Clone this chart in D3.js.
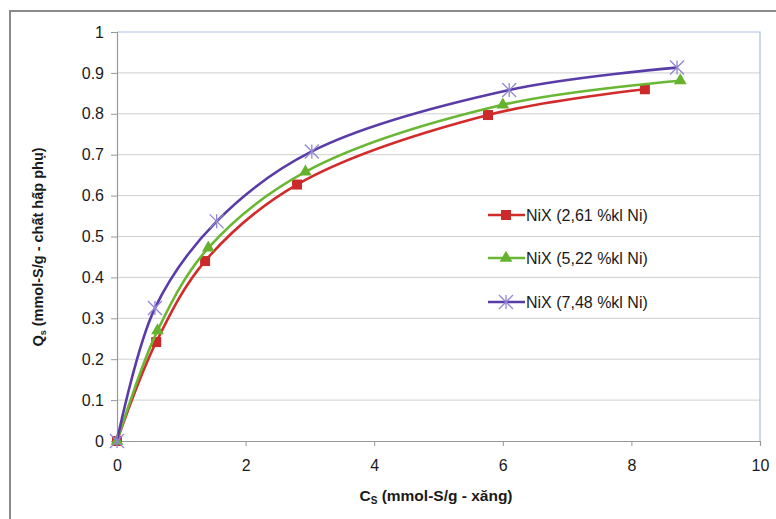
<!DOCTYPE html>
<html>
<head>
<meta charset="utf-8">
<script src="https://cdn.jsdelivr.net/npm/d3@7"></script>
<style>
  html, body { margin: 0; padding: 0; background: #fff; }
  svg { display: block; }
  text { font-family: "Liberation Sans", Arial, sans-serif; }
</style>
</head>
<body>
<svg id="chart" width="776" height="519"></svg>
<script>
// ---- data ----
const cs_261 = [0, 0.61, 1.37, 2.80, 5.77, 8.21];
const qs_261 = [0, 0.242, 0.440, 0.627, 0.797, 0.860];
const cs_522 = [0, 0.63, 1.42, 2.93, 6.00, 8.76];
const qs_522 = [0, 0.270, 0.472, 0.658, 0.822, 0.881];
const cs_748 = [0, 0.59, 1.55, 3.03, 6.10, 8.71];
const qs_748 = [0, 0.325, 0.537, 0.708, 0.858, 0.913];
const seriesNames = ["NiX (2,61 %kl Ni)", "NiX (5,22 %kl Ni)", "NiX (7,48 %kl Ni)"];
const xTicks = [0, 2, 4, 6, 8, 10];
const yTicks = [0, 0.1, 0.2, 0.3, 0.4, 0.5, 0.6, 0.7, 0.8, 0.9, 1];

const svg = d3.select("#chart");
const W = 776, H = 519;

// outer frame
svg.append("path")
  .attr("d", `M10,${H} L10,11 L${W},11`)
  .attr("fill", "none").attr("stroke", "#8a8a8a").attr("stroke-width", 2);

const x = d3.scaleLinear().domain([0, 10]).range([117, 760]);
const y = d3.scaleLinear().domain([0, 1]).range([441, 32]);

// gridlines
svg.append("g").selectAll("line").data(yTicks.filter(d => d > 0 && d < 1)).join("line")
  .attr("x1", x(0)).attr("x2", x(10))
  .attr("y1", d => y(d)).attr("y2", d => y(d))
  .attr("stroke", "#cfcfcf").attr("stroke-width", 1);

// plot border top/right
svg.append("path")
  .attr("d", `M${x(0)},${y(1)} L${x(10)},${y(1)} L${x(10)},${y(0)}`)
  .attr("fill", "none").attr("stroke", "#a9bfe0").attr("stroke-width", 1.2);

// axes
const yAxis = d3.axisLeft(y).tickValues(yTicks).tickSize(6).tickPadding(7)
  .tickFormat(d => d3.format("")(+d.toFixed(1)));
const gy = svg.append("g").attr("transform", `translate(${x(0)},0)`).call(yAxis);
const xAxis = d3.axisBottom(x).tickValues(xTicks).tickSize(5).tickPadding(11);
const gx = svg.append("g").attr("transform", `translate(0,${y(0)})`).call(xAxis);
[gx, gy].forEach(g => {
  g.select(".domain").attr("stroke", "#999").attr("stroke-width", 1.2);
  g.selectAll(".tick line").attr("stroke", "#999");
  g.selectAll(".tick text").attr("font-size", 16).attr("fill", "#1a1a1a")
    .attr("font-family", "Liberation Sans, Arial, sans-serif");
});
gx.selectAll(".tick text").attr("dy", "0.85em");

// axis titles
const yt = svg.append("text")
  .attr("transform", `translate(43,247) rotate(-90)`)
  .attr("text-anchor", "middle").attr("font-size", 14.5).attr("font-weight", "bold").attr("fill", "#1a1a1a");
yt.append("tspan").text("Q");
yt.append("tspan").attr("font-size", 9).attr("dy", 3).text("s");
yt.append("tspan").attr("dy", -3).text(" (mmol-S/g - chất hấp phụ)");

const xt = svg.append("text")
  .attr("x", 436).attr("y", 501)
  .attr("text-anchor", "middle").attr("font-size", 15.5).attr("font-weight", "bold").attr("fill", "#1a1a1a");
xt.append("tspan").text("C");
xt.append("tspan").attr("font-size", 10).attr("dy", 3).text("S");
xt.append("tspan").attr("dy", -3).text(" (mmol-S/g - xăng)");

// series
const series = [
  { name: seriesNames[0], xs: cs_261, ys: qs_261, color: "#d22b2b", mcolor: "#cc2a2a", marker: "square" },
  { name: seriesNames[1], xs: cs_522, ys: qs_522, color: "#6ab734", mcolor: "#66b22f", marker: "triangle" },
  { name: seriesNames[2], xs: cs_748, ys: qs_748, color: "#5a3ca8", mcolor: "#9088d2", marker: "star" }
];

const line = d3.line().x(d => x(d[0])).y(d => y(d[1])).curve(d3.curveCatmullRom.alpha(0.5));

function drawMarker(g, cx, cy, s) {
  if (s.marker === "square") {
    g.append("rect").attr("x", cx - 5).attr("y", cy - 5).attr("width", 10).attr("height", 10)
      .attr("fill", s.mcolor);
  } else if (s.marker === "triangle") {
    g.append("path").attr("d", d3.symbol(d3.symbolTriangle, 70)()).attr("transform", `translate(${cx},${cy})`)
      .attr("fill", s.mcolor);
  } else {
    const r = 7;
    const p = `M${cx - r},${cy - r} L${cx + r},${cy + r} M${cx - r},${cy + r} L${cx + r},${cy - r} M${cx},${cy - r} L${cx},${cy + r}`;
    g.append("path").attr("d", p).attr("stroke", s.mcolor).attr("stroke-width", 1.3).attr("fill", "none");
  }
}

series.forEach(s => {
  const pts = s.xs.map((v, i) => [v, s.ys[i]]);
  svg.append("path").datum(pts).attr("d", line)
    .attr("fill", "none").attr("stroke", s.color).attr("stroke-width", 2.6);
  const g = svg.append("g");
  pts.forEach(p => drawMarker(g, x(p[0]), y(p[1]), s));
});

// legend
const legY = [215, 258, 302];
series.forEach((s, i) => {
  const g = svg.append("g");
  g.append("line").attr("x1", 488).attr("x2", 525).attr("y1", legY[i]).attr("y2", legY[i])
    .attr("stroke", s.color).attr("stroke-width", 2.6);
  drawMarker(g, 506, legY[i], s);
  g.append("text").attr("x", 526).attr("y", legY[i] + 6).attr("font-size", 16).attr("fill", "#1a1a1a")
    .text(s.name);
});
</script>
</body>
</html>
